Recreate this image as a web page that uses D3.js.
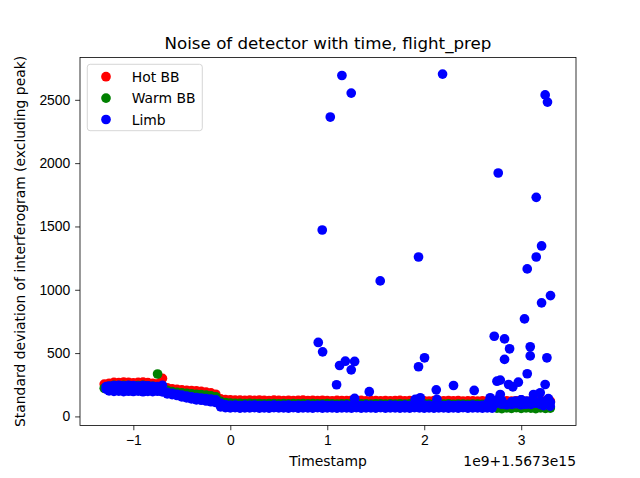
<!DOCTYPE html>
<html>
<head>
<meta charset="utf-8">
<script src="https://cdn.jsdelivr.net/npm/d3@7"></script>
<style>
  body { margin: 0; background: #fff; }
  svg { font-family: "DejaVu Sans", sans-serif; }
  .axis path, .axis line { stroke: #000; stroke-width: 0.8; }
  .axis text { font-size: 13.9px; fill: #000; }
</style>
</head>
<body>
<svg id="chart" width="640" height="478"></svg>
<script>
// timestamps (units of 1e9, offset 1.5673e15) of the calibration band
const times = [
  -1.30,-1.25,-1.20,-1.15,-1.10,-1.05,-1.00,-0.95,-0.90,-0.85,
  -0.80,-0.75,-0.70,-0.65,-0.60,-0.55,-0.50,-0.45,-0.40,-0.35,
  -0.30,-0.25,-0.20,-0.15,-0.10,-0.05,0.00,0.05,0.10,0.15,
  0.20,0.25,0.30,0.35,0.40,0.45,0.50,0.55,0.60,0.65,
  0.70,0.75,0.80,0.85,0.90,0.95,1.00,1.05,1.10,1.15,
  1.20,1.25,1.30,1.35,1.40,1.45,1.50,1.55,1.60,1.65,
  1.70,1.75,1.80,1.85,1.90,1.95,2.00,2.05,2.10,2.15,
  2.20,2.25,2.30,2.35,2.40,2.45,2.50,2.55,2.60,2.65,
  2.70,2.75,2.80,2.85,2.90,2.95,3.00,3.05,3.10,3.15,
  3.20,3.25,3.30
];

const hotBB = [
  255,262,268,266,270,268,265,268,270,266,
  262,258,300,225,218,214,210,206,204,202,
  198,192,186,175,139,132,130,128,129,127,
  128,126,129,127,125,128,126,124,127,125,
  126,128,125,127,124,126,125,123,126,124,
  125,127,124,126,123,125,124,122,125,123,
  124,126,123,125,122,124,123,121,124,122,
  123,125,122,124,121,123,122,120,123,121,
  122,124,121,123,120,122,121,119,122,120,
  121,123,120
];

const warmBB = [
  222,238,245,244,246,244,242,244,246,242,
  238,335,240,205,195,190,186,182,178,175,
  172,168,162,155,118,110,106,104,103,102,
  103,101,102,100,101,102,100,101,99,101,
  100,102,99,101,100,99,101,100,98,100,
  99,101,98,100,99,98,100,99,97,99,
  98,100,97,99,98,97,99,98,96,98,
  97,99,96,98,97,96,98,97,95,97,
  96,66,62,68,64,70,63,67,65,62,
  68,64,66
];

// limb samples along the band, upper and lower rows (null = no sample)
const limbHigh = [
  null,240,244,246,242,245,243,240,244,242,
  238,236,245,190,183,175,168,160,154,149,
  145,140,136,131,104,92,88,90,86,89,
  87,90,86,88,85,89,86,87,90,85,
  88,86,89,85,87,90,86,88,85,87,
  89,86,88,85,90,87,86,88,85,89,
  87,86,90,85,88,86,89,87,85,88,
  86,89,85,88,87,86,90,85,88,86,
  89,105,125,92,115,100,130,96,118,104,
  122,98,112
];

const limbLow = [
  null,202,198,200,196,199,197,200,195,198,
  196,199,194,178,172,165,155,146,138,131,
  128,122,116,110,76,70,67,69,66,68,
  67,69,65,68,66,70,67,68,65,69,
  66,68,67,65,69,66,68,67,65,68,
  67,65,69,66,68,67,65,69,66,68,
  67,66,68,65,69,67,66,68,65,67,
  68,66,67,65,69,66,68,67,65,68,
  66,null,96,null,100,null,92,null,98,null,
  94,null,null
];

// remaining limb samples: [timestamp, std dev]
const limbExtra = [
  [-1.28,215],[-1.28,235],
  [0.907,584],[0.948,1472],[0.952,510],[1.031,2364],[1.096,250],[1.127,402],
  [1.151,2692],[1.186,436],[1.247,2553],[1.247,368],[1.282,434],[1.282,142],
  [1.433,195],[1.546,1070],[1.907,134],[1.941,1259],[1.941,392],[1.959,147],
  [2.003,463],[2.124,210],[2.131,134],[2.189,2703],[2.302,244],[2.515,205],
  [2.66,110],[2.68,147],[2.70,125],[2.72,100],[2.722,633],[2.75,278],
  [2.76,135],[2.763,1922],[2.784,173],[2.784,286],[2.828,612],[2.828,450],
  [2.87,252],[2.88,534],[2.904,95],[2.914,234],[2.938,121],[2.95,105],
  [2.97,270],[3.00,130],[3.034,770],[3.059,121],[3.062,1165],[3.062,337],
  [3.093,550],[3.093,478],[3.10,95],[3.127,173],[3.155,1730],[3.155,1259],
  [3.162,108],[3.196,187],[3.20,120],[3.21,1346],[3.21,897],[3.23,85],
  [3.247,2539],[3.247,252],[3.25,100],[3.265,463],[3.271,2482],[3.28,140],
  [3.299,81],[3.302,954]
];

const xTicks = [-1, 0, 1, 2, 3];
const yTicks = [0, 500, 1000, 1500, 2000, 2500];
const seriesNames = ["Hot BB", "Warm BB", "Limb"];
const seriesColors = ["#ff0000", "#008000", "#0000ff"];

const svg = d3.select("#chart");
const plotLeft = 80, plotRight = 576, plotTop = 57.4, plotBottom = 425.4;

const x = d3.scaleLinear().domain([-1.55, 3.565]).range([plotLeft, plotRight]);
const y = d3.scaleLinear().domain([-71, 2835]).range([plotBottom, plotTop]);

const r = 4.85;

// pair a value list with the timestamps, dropping missing samples
function pairs(values) {
  return times.map((t, i) => [t, values[i]]).filter(d => d[1] != null);
}

// one scatter per series, drawn in matplotlib order
function scatter(points, color) {
  svg.append("g")
    .selectAll("circle")
    .data(points)
    .enter()
    .append("circle")
    .attr("cx", d => x(d[0]))
    .attr("cy", d => y(d[1]))
    .attr("r", r)
    .attr("fill", color);
}

scatter(pairs(hotBB), seriesColors[0]);
scatter(pairs(warmBB), seriesColors[1]);
scatter(pairs(limbHigh).concat(pairs(limbLow), limbExtra), seriesColors[2]);

// axes
const fmt = d => String(d).replace("-", "\u2212");

svg.append("g")
  .attr("class", "axis")
  .attr("transform", `translate(0,${plotBottom})`)
  .call(d3.axisBottom(x).tickValues(xTicks).tickFormat(fmt).tickSize(4.86).tickPadding(4.86).tickSizeOuter(0))
  .select(".domain").remove();

svg.append("g")
  .attr("class", "axis")
  .attr("transform", `translate(${plotLeft},0)`)
  .call(d3.axisLeft(y).tickValues(yTicks).tickFormat(fmt).tickSize(4.86).tickPadding(4.86).tickSizeOuter(0))
  .select(".domain").remove();

svg.append("rect")
  .attr("x", plotLeft).attr("y", plotTop)
  .attr("width", plotRight - plotLeft).attr("height", plotBottom - plotTop)
  .attr("fill", "none").attr("stroke", "#000").attr("stroke-width", 0.8);

// texts
svg.append("text")
  .attr("x", (plotLeft + plotRight) / 2).attr("y", 49)
  .attr("text-anchor", "middle")
  .style("font-size", "16.7px")
  .text("Noise of detector with time, flight_prep");

svg.append("text")
  .attr("x", (plotLeft + plotRight) / 2).attr("y", 466)
  .attr("text-anchor", "middle")
  .style("font-size", "13.9px")
  .text("Timestamp");

svg.append("text")
  .attr("x", plotRight).attr("y", 466)
  .attr("text-anchor", "end")
  .style("font-size", "13.9px")
  .text("1e9+1.5673e15");

svg.append("text")
  .attr("transform", `translate(25,${(plotTop + plotBottom) / 2}) rotate(-90)`)
  .attr("text-anchor", "middle")
  .style("font-size", "13.9px")
  .text("Standard deviation of interferogram (excluding peak)");

// legend
const legend = svg.append("g").attr("transform", "translate(87.3,64.3)");
legend.append("rect")
  .attr("width", 115).attr("height", 66.4)
  .attr("rx", 2.8)
  .attr("fill", "#fff").attr("fill-opacity", 0.8)
  .attr("stroke", "#cccccc").attr("stroke-width", 0.8);

const rows = legend.selectAll("g.row")
  .data(seriesNames)
  .enter()
  .append("g")
  .attr("class", "row")
  .attr("transform", (d, i) => `translate(0,${12.4 + i * 21.4})`);

rows.append("circle")
  .attr("cx", 18.7).attr("cy", 0).attr("r", r)
  .attr("fill", (d, i) => seriesColors[i]);

rows.append("text")
  .attr("x", 44.4).attr("y", 5)
  .style("font-size", "13.9px")
  .text(d => d);
</script>
</body>
</html>
